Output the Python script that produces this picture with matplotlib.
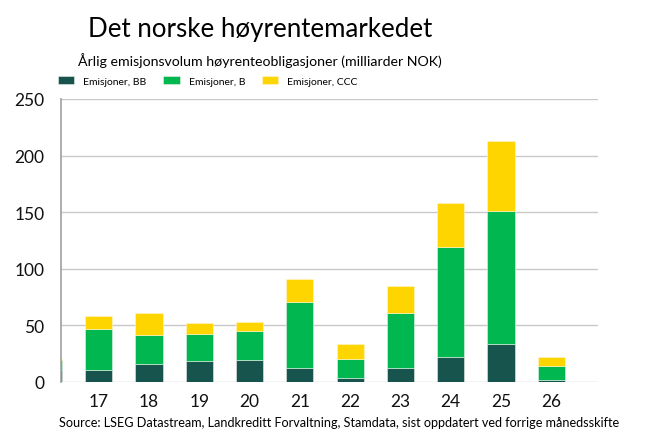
import numpy as np
import matplotlib.pyplot as plt

# Year (two digits) and yearly issuance, billion NOK
years = [16, 17, 18, 19, 20, 21, 22, 23, 24, 25, 26]
bb = [10.9, 10.9, 16.2, 18.8, 19.7, 12.6, 3.5, 12.4, 22.4, 33.9, 2.0]
b = [8.5, 35.9, 25.3, 23.6, 25.4, 58.3, 16.8, 48.8, 97.1, 116.9, 12.1]
ccc = [1.0, 11.8, 19.2, 9.7, 8.2, 20.1, 13.0, 23.8, 38.6, 62.1, 8.0]
labels = ['Emisjoner, BB', 'Emisjoner, B', 'Emisjoner, CCC']
yticks = [0, 50, 100, 150, 200, 250]

C_BB = '#17544E'
C_B = '#00B84F'
C_CCC = '#FFD500'

plt.rcParams['font.family'] = ['Lato', 'DejaVu Sans']

fig = plt.figure(figsize=(6.47, 4.35), dpi=100)
ax = fig.add_axes([61 / 647, 1 - 383 / 435, 537 / 647, 283 / 435])

x = np.array(years)
bb = np.array(bb)
b = np.array(b)
ccc = np.array(ccc)
w = 0.54
ax.bar(x, bb, w, color=C_BB, edgecolor='#e8efe8', linewidth=0.4, label=labels[0], zorder=3)
ax.bar(x, b, w, bottom=bb, color=C_B, edgecolor='#e8efe8', linewidth=0.4, label=labels[1], zorder=3)
ax.bar(x, ccc, w, bottom=bb + b, color=C_CCC, edgecolor='#fff8d0', linewidth=0.4, label=labels[2], zorder=3)

ax.set_xlim(16.25, 26.93)
ax.set_ylim(0, 250)
ax.set_xticks(years[1:])
ax.set_xticklabels([str(y) for y in years[1:]])
ax.set_yticks(yticks)
ax.tick_params(length=0, labelsize=12.5, colors='#111111')
ax.tick_params(axis='x', pad=8)
ax.tick_params(axis='y', pad=12)
ax.grid(axis='y', color='#c8c8c8', linewidth=1, zorder=0)
for s in ['top', 'right', 'bottom']:
    ax.spines[s].set_visible(False)
ax.spines['left'].set_color('#a0a0a0')
ax.spines['left'].set_linewidth(1.2)
ax.spines['left'].set_zorder(4)

fig.text(0.402, 0.915, 'Det norske høyrentemarkedet', ha='center', fontsize=18.6)
fig.text(0.402, 0.848, 'Årlig emisjonsvolum høyrenteobligasjoner (milliarder NOK)',
         ha='center', fontsize=10.2)
fig.legend(loc='center left', bbox_to_anchor=(0.089, 0.811), ncol=3, frameon=False,
           fontsize=7.5, handlelength=1.6, handleheight=0.75, columnspacing=1.6,
           handletextpad=0.85, borderpad=0, borderaxespad=0)
fig.text(0.524, 0.018, 'Source: LSEG Datastream, Landkreditt Forvaltning, Stamdata, sist oppdatert ved forrige månedsskifte',
         ha='center', fontsize=9.1)

fig.savefig('out.png', dpi=100)
